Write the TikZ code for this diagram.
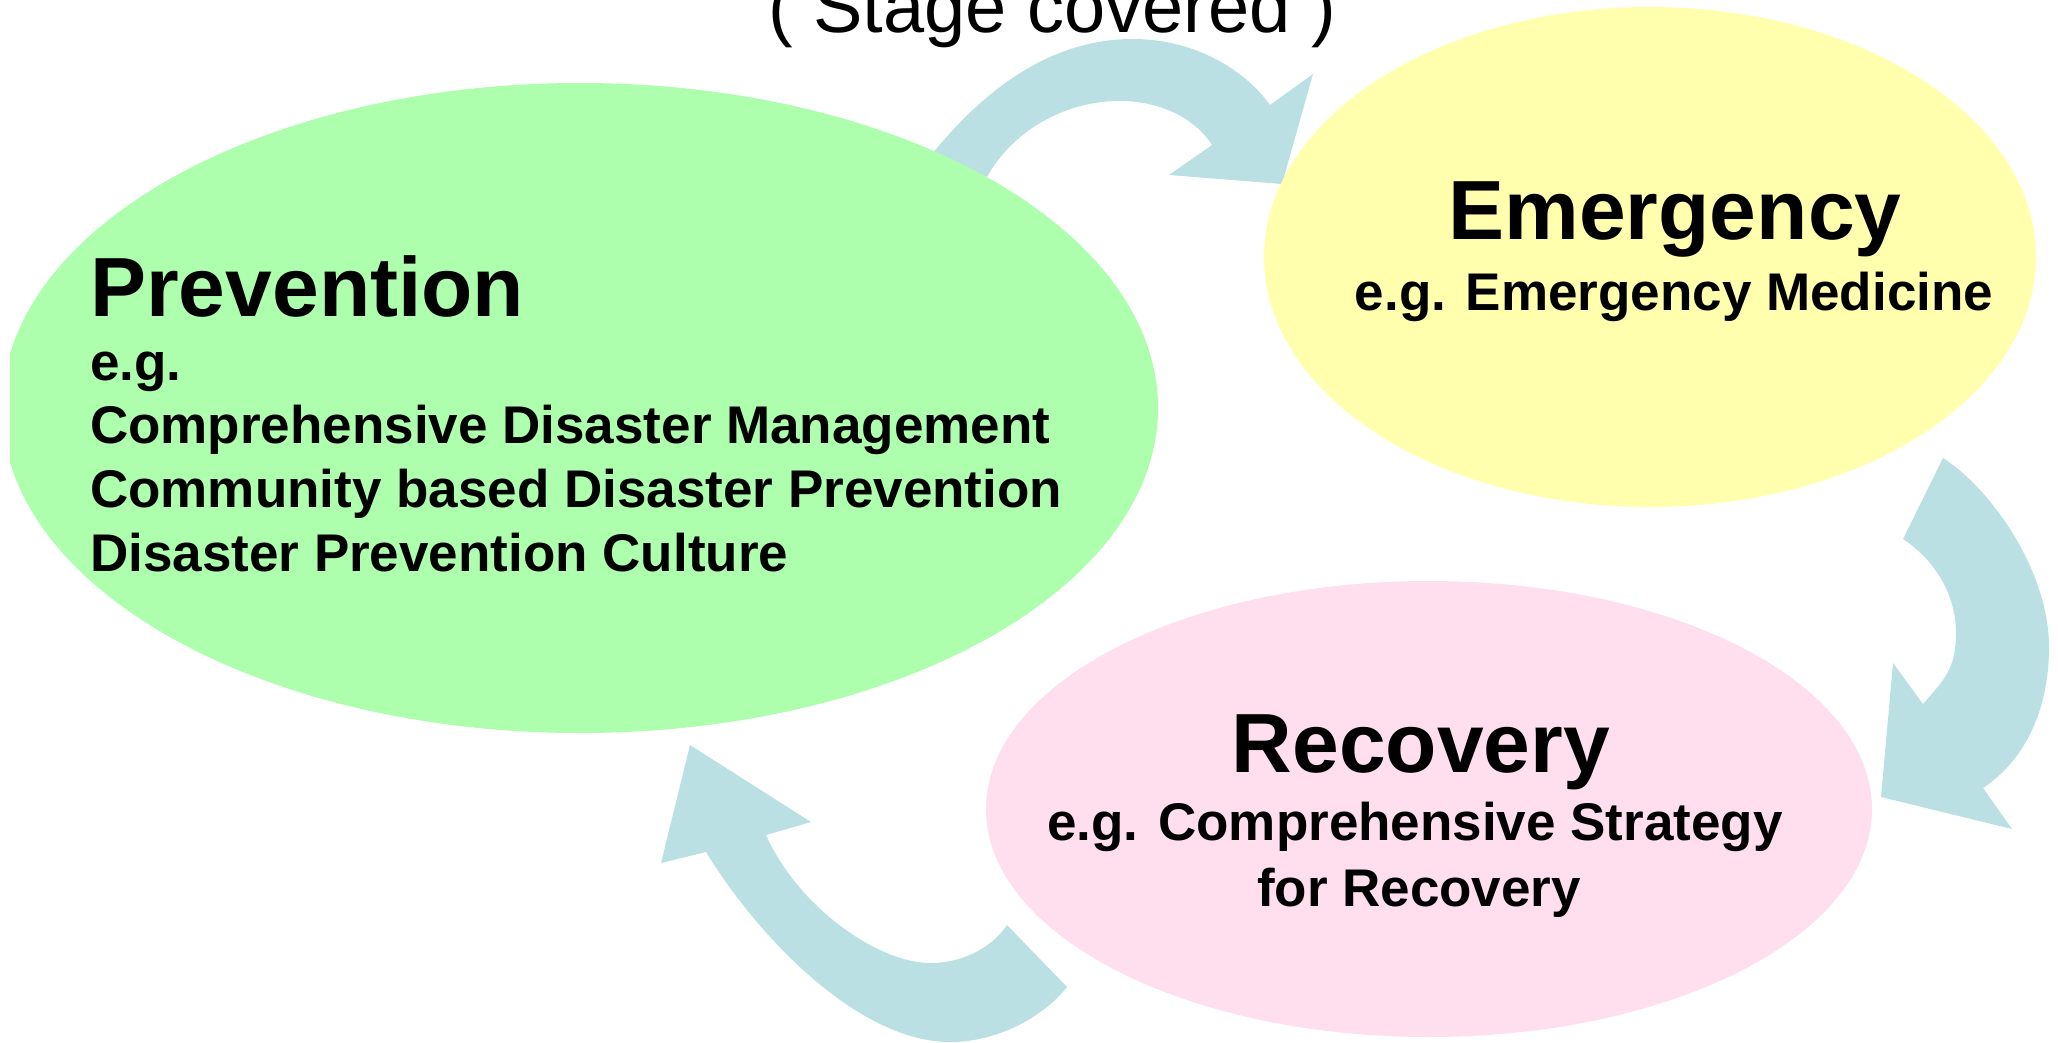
\documentclass[tikz,border=0pt]{standalone}
\usepackage{fontspec}
\setmainfont{Liberation Sans}
\usetikzlibrary{shapes.geometric}
\definecolor{arrowc}{RGB}{187,224,227}
\definecolor{prevc}{RGB}{173,255,173}
\definecolor{emerc}{RGB}{255,255,173}
\definecolor{recc}{RGB}{255,222,238}
\begin{document}
\begin{tikzpicture}[x=1pt,y=-1pt,
  stage/.style={ellipse, inner sep=0pt, outer sep=0pt, draw=none},
  bigtxt/.style={font=\fontsize{84}{100}\selectfont\bfseries, inner sep=0pt},
  smalltxt/.style={font=\fontsize{53}{64}\selectfont\bfseries, inner sep=0pt},
  ttltxt/.style={font=\fontsize{74}{88}\selectfont, inner sep=0pt},
  cycarrow/.style={fill=arrowc, draw=none}]
\useasboundingbox (0,0) rectangle (2058,1043);
\clip (10,0) rectangle (2058,1043);

% curved block arrows (drawn behind the ellipses)
\fill[cycarrow] (932,154) .. controls (977,99) and (1043,39) .. (1133,39)
  .. controls (1195,39) and (1245,70) .. (1270,105)
  -- (1313,74) -- (1282,184) -- (1169,175) -- (1212,145)
  .. controls (1195,118) and (1160,101) .. (1120,101)
  .. controls (1060,101) and (1010,135) .. (987,177) -- cycle;

\fill[cycarrow] (1943,458) .. controls (1990,488) and (2049,570) .. (2049,647)
  .. controls (2049,710) and (2025,760) .. (1983,788)
  -- (2012,829) -- (1881,797) -- (1893,663) -- (1923,704)
  .. controls (1945,679) and (1956,668) .. (1956,633)
  .. controls (1956,595) and (1935,560) .. (1903,539) -- cycle;

\fill[cycarrow] (1007,925) .. controls (990,950) and (960,963) .. (930,963)
  .. controls (880,963) and (800,910) .. (766,835)
  -- (811,822) -- (690,745) -- (661,863) -- (706,852)
  .. controls (760,940) and (860,1042) .. (950,1042)
  .. controls (1000,1042) and (1045,1015) .. (1067,987) -- cycle;

% stages
\node[stage, fill=prevc, minimum width=1156pt, minimum height=650pt] (prev) at (580,408) {};
\node[stage, fill=emerc, minimum width=772pt, minimum height=500pt] (emer) at (1650,257) {};
\node[stage, fill=recc, minimum width=886pt, minimum height=456pt] (reco) at (1429,809) {};

% title
\node[ttltxt, anchor=base] (title) at (1052,33) {( Stage covered )};

% prevention text
\node[bigtxt, anchor=base west] (pt1) at (90,316) {Prevention};
\node[smalltxt, anchor=base west] (pt2) at (90,380) {e.g.};
\node[smalltxt, anchor=base west] (pt3) at (90,443) {Comprehensive Disaster Management};
\node[smalltxt, anchor=base west] (pt4) at (90,507) {Community based Disaster Prevention};
\node[smalltxt, anchor=base west] (pt5) at (90,571) {Disaster Prevention Culture};

% emergency text
\node[bigtxt, anchor=base] (et1) at (1675,240) {Emergency};
\node[smalltxt, anchor=base] (et2) at (1674,310) {e.g. Emergency Medicine};

% recovery text
\node[bigtxt, anchor=base] (rt1) at (1421,772) {Recovery};
\node[smalltxt, anchor=base] (rt2) at (1415,840) {e.g. Comprehensive Strategy};
\node[smalltxt, anchor=base] (rt3) at (1419,906) {for Recovery};
\end{tikzpicture}
\end{document}
